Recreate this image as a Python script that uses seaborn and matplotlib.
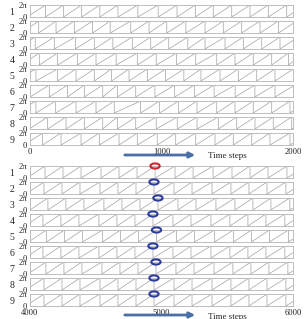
import numpy as np
import pandas as pd
import matplotlib.pyplot as plt
import seaborn as sns
from matplotlib.markers import MarkerStyle
from matplotlib.patches import FancyArrowPatch

sns.set_style("white")
plt.rcParams['font.family'] = ['Liberation Serif', 'DejaVu Serif']

# Data
rows = ['1', '2', '3', '4', '5', '6', '7', '8', '9']

top_range = [0, 2000]
top_xticks = [0, 1000, 2000]
bottom_range = [4000, 6000]
bottom_xticks = [4000, 5000, 6000]

# reset times (phase 2pi -> 0) of every oscillator, unsynchronised part
resets_top = [
    [117, 255, 393, 531, 669, 820, 975, 1118, 1257, 1394, 1534, 1673, 1812, 1952],
    [66, 198, 337, 476, 610, 766, 905, 1040, 1185, 1331, 1470, 1610, 1749, 1889],
    [40, 185, 345, 489, 630, 778, 918, 1055, 1200, 1331, 1483, 1622, 1762, 1901],
    [71, 210, 360, 502, 655, 816, 960, 1115, 1260, 1420, 1559, 1698, 1838, 1965],
    [45, 210, 350, 489, 620, 753, 892, 1030, 1170, 1300, 1445, 1584, 1724, 1863],
    [147, 286, 413, 553, 664, 804, 950, 1100, 1250, 1400, 1560, 1710, 1863],
    [45, 195, 350, 502, 641, 841, 985, 1130, 1270, 1420, 1559, 1698, 1838, 1977],
    [134, 274, 413, 553, 664, 804, 960, 1120, 1270, 1432, 1572, 1711, 1850, 1990],
    [96, 236, 388, 527, 677, 816, 968, 1108, 1260, 1407, 1546, 1686, 1825, 1977],
]

# synchronised part: reset times of oscillator 1
sync_resets = [4114, 4251, 4388, 4540, 4677, 4814, 4951, 5103, 5240, 5392,
               5536, 5673, 5810, 5954]
# marked reset of each oscillator near t = 5000
marker_times = [4951, 4943, 4973, 4935, 4962, 4935, 4958, 4943, 4943]
marker_colors = ['#d4232b'] + ['#2b3c9e'] * 8

TWO_PI = 2 * np.pi
line_color = '#a9a9a9'
frame_color = '#bdbdbd'
arrow_color = '#4a6fa5'

W, H = 306, 319
fig = plt.figure(figsize=(W / 100, H / 100), dpi=100)


def sawtooth(resets, t0, t1):
    """phase trace that rises to 2pi and drops to 0 at every reset"""
    xs, ys = [], []
    p = resets[1] - resets[0]
    xs.append(t0)
    ys.append(max(0.0, TWO_PI * (1 - (resets[0] - t0) / p)))
    for r in resets:
        xs += [r, r]
        ys += [TWO_PI, 0.0]
    p = resets[-1] - resets[-2]
    xs.append(t1)
    ys.append(min(TWO_PI, TWO_PI * (t1 - resets[-1]) / p))
    return pd.DataFrame({'t': xs, 'phase': ys})


def strip(top_px, xlim, resets, xticks, last):
    ax = fig.add_axes([30 / W, 1 - (top_px + 12) / H, 263 / W, 12 / H])
    df = sawtooth(resets, xlim[0], xlim[1])
    sns.lineplot(data=df, x='t', y='phase', ax=ax, sort=False,
                 estimator=None, color=line_color, linewidth=0.55)
    ax.set_xlim(xlim)
    ax.set_ylim(0, TWO_PI)
    ax.set_yticks([0, TWO_PI])
    ax.set_yticklabels(['0', '2\u03c0'])
    ax.set_xlabel('')
    ax.set_ylabel('')
    ax.tick_params(length=0, pad=2, labelsize=6.2)
    if last:
        ax.set_xticks(xticks)
        ax.set_xticklabels([str(v) for v in xticks])
    else:
        ax.set_xticks([])
    for s in ax.spines.values():
        s.set_color(frame_color)
        s.set_linewidth(0.7)
    return ax


theta = np.linspace(0, 2 * np.pi, 41)
ellipse = MarkerStyle(np.column_stack([np.cos(theta), 0.55 * np.sin(theta)]))

# top panel
for i, lab in enumerate(rows):
    top = 5 + 16 * i
    strip(top, top_range, resets_top[i], top_xticks, i == len(rows) - 1)
    fig.text(12 / W, 1 - (top + 7.5) / H, lab, ha='center', va='center',
             fontsize=7)

# bottom panel
for i, lab in enumerate(rows):
    top = 166 + 16 * i
    shift = marker_times[i] - marker_times[0]
    resets = [r + shift for r in sync_resets]
    ax = strip(top, bottom_range, resets, bottom_xticks, i == len(rows) - 1)
    sns.scatterplot(x=[marker_times[i]], y=[TWO_PI], ax=ax, marker=ellipse,
                    s=45, facecolor='none', edgecolor=marker_colors[i],
                    linewidth=1.5, clip_on=False, zorder=5)
    fig.text(12 / W, 1 - (top + 7.5) / H, lab, ha='center', va='center',
             fontsize=7)

# arrows and "Time steps"
for y_px, ty_px in [(155, 156), (315, 317)]:
    arr = FancyArrowPatch((122 / W, 1 - y_px / H), (198 / W, 1 - y_px / H),
                          transform=fig.transFigure, arrowstyle='-|>',
                          mutation_scale=8, color=arrow_color, linewidth=2)
    fig.add_artist(arr)
    fig.text(208 / W, 1 - ty_px / H, 'Time steps', ha='left', va='center',
             fontsize=6.5)

fig.savefig('out.png', dpi=100)
